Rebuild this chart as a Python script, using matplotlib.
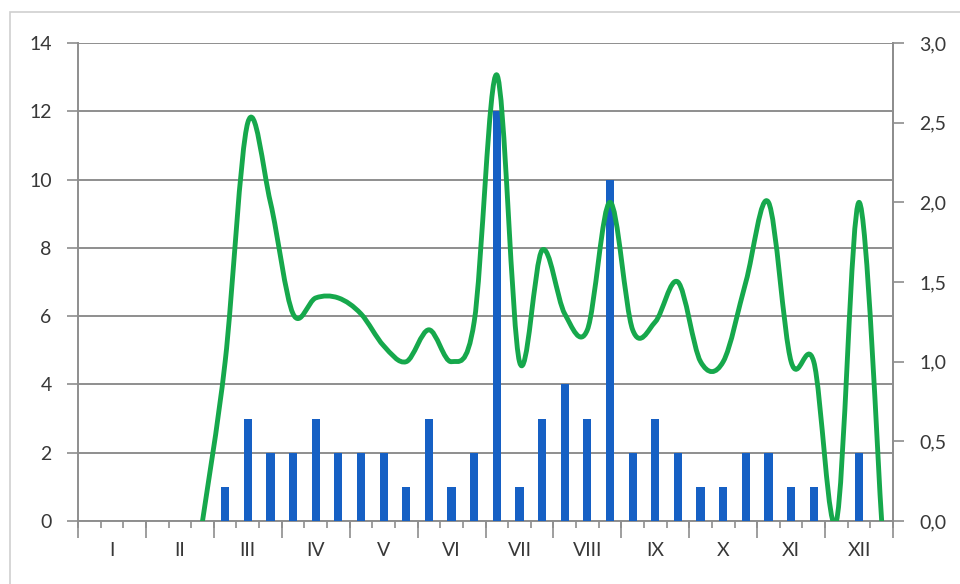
import numpy as np
import matplotlib
matplotlib.use("Agg")
import matplotlib.pyplot as plt
from matplotlib.path import Path
from matplotlib.patches import PathPatch, Rectangle
from matplotlib.ticker import FuncFormatter

# data: 36 dekads (3 per month)
months = ["I", "II", "III", "IV", "V", "VI", "VII", "VIII", "IX", "X", "XI", "XII"]
bar_values = [0, 0, 0, 0, 0, 0,
              1, 3, 2, 2, 3, 2, 2, 2, 1, 3, 1, 2,
              12, 1, 3, 4, 3, 10, 2, 3, 2, 1, 1, 2,
              2, 1, 1, 0, 2, 0]
line_values = [np.nan, np.nan, np.nan, np.nan, np.nan,
               0.0, 1.0, 2.5, 2.0, 1.3, 1.4, 1.4, 1.3, 1.1, 1.0,
               1.2, 1.0, 1.25, 2.8, 1.0, 1.7, 1.3, 1.2, 2.0, 1.2,
               1.25, 1.5, 1.0, 1.0, 1.5, 2.0, 1.0, 1.0, 0.0, 2.0, 0.0]

bar_color = "#1660C4"
line_color = "#16A84C"
grid_color = "#8e8e8e"
text_color = "#383838"

plt.rcParams["font.family"] = ["Lato", "DejaVu Sans"]

fig = plt.figure(figsize=(9.6, 5.84), dpi=100)
# light chart border
fig.patches.append(Rectangle((10 / 960, -0.1), 1.2, 1 - 12 / 584 + 0.1,
                             transform=fig.transFigure, fill=False,
                             edgecolor="#cfcfcf", lw=1.2))

ax = fig.add_axes([78 / 960, 63 / 584, 815 / 960, 478 / 584])
x = np.arange(len(bar_values))
ax.bar(x, bar_values, width=0.36, color=bar_color, zorder=3)
ax.set_xlim(-0.5, len(bar_values) - 0.5)
ax.set_ylim(0, 14)
ax.set_yticks(range(0, 15, 2))
ax.yaxis.grid(True, color=grid_color, lw=1.4, zorder=0)
ax.tick_params(axis="y", direction="out", length=8, width=1.2, color=grid_color,
               pad=11, labelsize=14, labelcolor=text_color)

# month labels at centres, small ticks at each dekad
ax.set_xticks(np.arange(1, 36, 3), months)
ax.set_xticks(np.arange(-0.5, 36, 1), minor=True)
ax.tick_params(axis="x", which="major", length=0, pad=15, labelsize=14,
               labelcolor=text_color)
ax.tick_params(axis="x", which="minor", direction="out", length=5, width=1.2,
               color=grid_color)
sec = ax.secondary_xaxis("bottom")
sec.set_xticks(np.arange(-0.5, 36, 3))
sec.tick_params(length=12, width=1.2, color=grid_color, labelbottom=False)
sec.spines["bottom"].set_visible(False)

ax.spines["top"].set_visible(False)
for s in ["left", "right", "bottom"]:
    ax.spines[s].set_color(grid_color)
    ax.spines[s].set_linewidth(1.4)

ax2 = ax.twinx()
ax2.set_ylim(0, 3.0)
ax2.set_yticks(np.arange(0, 3.01, 0.5))
ax2.yaxis.set_major_formatter(FuncFormatter(lambda v, p: f"{v:.1f}".replace(".", ",")))
ax2.tick_params(axis="y", direction="out", length=8, width=1.2, color=grid_color,
                pad=11, labelsize=14, labelcolor=text_color)
for s in ["top", "left", "bottom"]:
    ax2.spines[s].set_visible(False)
ax2.spines["right"].set_color(grid_color)
ax2.spines["right"].set_linewidth(1.4)

# smoothed line (Catmull-Rom as cubic Bezier, like Excel's smoothed line)
yv = np.array(line_values, dtype=float)
ok = ~np.isnan(yv)
pts = np.column_stack([x[ok].astype(float), yv[ok]])
ext = np.vstack([pts[0], pts, pts[-1]])
verts = [tuple(pts[0])]
codes = [Path.MOVETO]
for i in range(len(pts) - 1):
    p0, p1, p2, p3 = ext[i], ext[i + 1], ext[i + 2], ext[i + 3]
    c1 = p1 + (p2 - p0) / 6.0
    c2 = p2 - (p3 - p1) / 6.0
    verts += [tuple(c1), tuple(c2), tuple(p2)]
    codes += [Path.CURVE4] * 3
ax2.add_patch(PathPatch(Path(verts, codes), fill=False, edgecolor=line_color,
                        lw=3.5, capstyle="round", joinstyle="round", zorder=4))

fig.savefig("out.png", dpi=100)
